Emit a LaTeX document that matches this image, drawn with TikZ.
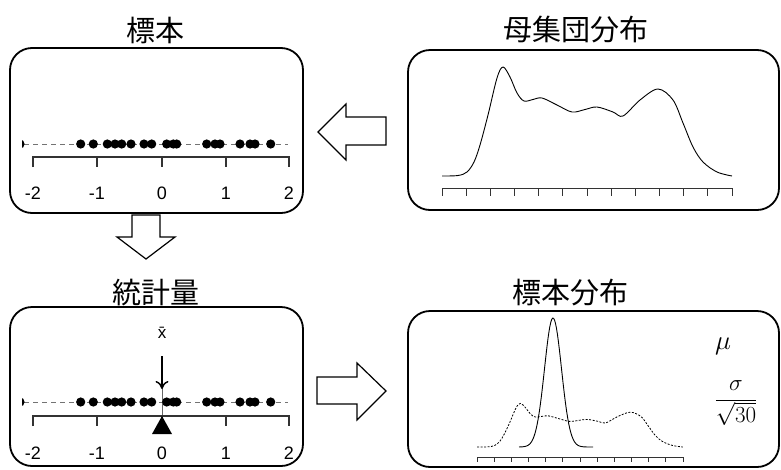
\RequirePackage{fix-cm}
\documentclass[tikz,border=0pt]{standalone}
\usepackage{fontspec}
\setmainfont{Liberation Sans}
\newfontfamily\cjk{Noto Sans CJK JP}
\usetikzlibrary{arrows.meta}
\tikzset{
  panel/.style={draw=black, line width=1.8pt, rounded corners=22pt, inner sep=0pt, fill=white},
  ttl/.style={font=\cjk\fontsize{29}{31}\selectfont, inner sep=0pt},
  blockarrow/.style={draw=black, line width=1.2pt, fill=white, line join=miter},
  axisline/.style={draw=black!80, line width=1.2pt},
  dotline/.style={draw=black!55, line width=0.8pt, dash pattern=on 5pt off 4pt},
  sdot/.style={fill=black},
  ticklab/.style={font=\fontsize{18}{20}\selectfont, inner sep=0pt},
  curve/.style={draw=black, line width=0.9pt},
  dcurve/.style={draw=black, line width=0.8pt, dash pattern=on 2pt off 1.5pt},
}
\newcommand{\sampledots}[1]{%
  \begin{scope}
    \clip (22,#1-6) rectangle (300,#1+6);
    \foreach \p in {20,80.7,93.3,107.3,115,121.7,131,144,151.7,166.7,173.3,176.7,206.7,215,220,240,250,255,270.7}
      \fill[sdot] (\p,#1) circle (4.6);
  \end{scope}}
\newcommand{\numaxis}[2]{%
  \draw[axisline] (33,#1+10) -- (33,#1) -- (289,#1) -- (289,#1+10);
  \foreach \k in {97,162,226} \draw[axisline] (\k,#1) -- (\k,#1+10);
  \foreach \k/\l in {33/-2,97/-1,162/0,226/1,289/2}
    \node[ticklab] at (\k,#2) {\l};}
\begin{document}
\begin{tikzpicture}[x=1pt,y=-1pt]
\useasboundingbox (0,0) rectangle (781,469);

% panels
\node[panel, minimum width=293pt, minimum height=165pt] (sample) at (156.5,130.5) {};
\node[panel, minimum width=371pt, minimum height=160pt] (pop) at (593.5,130) {};
\node[panel, minimum width=293pt, minimum height=159pt] (stat) at (156.5,386.5) {};
\node[panel, minimum width=371pt, minimum height=156pt] (sdist) at (593.5,389) {};

% titles
\node[ttl] (t1) at (155,30) {標本};
\node[ttl] (t2) at (576,30) {母集団分布};
\node[ttl] (t3) at (156,293) {統計量};
\node[ttl] (t4) at (570,293) {標本分布};

% block arrows
\draw[blockarrow] (318,132) -- (346,104) -- (346,117) -- (386,117) -- (386,145) -- (346,145) -- (346,160) -- cycle;
\draw[blockarrow] (146,259) -- (117,237) -- (132,237) -- (132,215) -- (160,215) -- (160,237) -- (175,237) -- cycle;
\draw[blockarrow] (386,391) -- (357,363) -- (357,377) -- (317,377) -- (317,404) -- (357,404) -- (357,420) -- cycle;

% sample panel
\draw[dotline] (24,144) -- (288,144);
\sampledots{144}
\numaxis{157}{193}

% statistic panel
\draw[dotline] (24,402) -- (288,402);
\draw[draw=black!60, line width=0.8pt] (162,388) -- (162,416);
\sampledots{402}
\numaxis{416}{453}
\node[font=\fontsize{17}{19}\selectfont, inner sep=0pt] (xbar) at (162,333) {\=x};
\coordinate (xtop) at (162,356);
\coordinate (xbot) at (162,389);
\draw[line width=1.5pt, -{To[length=8pt,width=13pt]}] (xtop) -- (xbot);
\fill (162,416) -- (172,434) -- (152,434) -- cycle;

% population panel
\draw[curve] plot[smooth, tension=0.55] coordinates {
 (442,176) (458,175.5) (467,172) (474,162) (480,145) (488,115) (497,78) (503,67)
 (510,77) (517,93) (524,101) (533,99.5) (542,98) (557,105) (572,112) (585,109.5)
 (597,107) (613,112) (623,116) (640,100) (658,89) (673,100) (683,123) (693,147)
 (703,162) (717,172) (732,176)};
\draw[axisline, line width=0.9pt] (442,188) -- (732,188);
\foreach \i in {0,...,12} \draw[axisline, line width=0.9pt] (442+24.1667*\i,188) -- (442+24.1667*\i,196);

% sampling distribution panel
\begin{scope}[shift={(163.2,376.6)}, xscale=0.71, yscale=0.4]
\draw[dcurve] plot[smooth, tension=0.55] coordinates {
 (442,176) (458,175.5) (467,172) (474,162) (480,145) (488,115) (497,78) (503,67)
 (510,77) (517,93) (524,101) (533,99.5) (542,98) (557,105) (572,112) (585,109.5)
 (597,107) (613,112) (623,116) (640,100) (658,89) (673,100) (683,123) (693,147)
 (703,162) (717,172) (732,176)};
\end{scope}
\draw[curve] plot[domain=519:593, samples=80] (\x, {447-129*exp(-((\x-553)^2)/144.5)});
\draw[axisline, line width=0.9pt] (477,457) -- (683,457);
\foreach \i in {0,...,12} \draw[axisline, line width=0.9pt] (477+17.1667*\i,457) -- (477+17.1667*\i,462);
\node[inner sep=0pt, font=\fontsize{27}{30}\selectfont] (mu) at (723,346) {$\mu$};
\node[inner sep=0pt, font=\fontsize{23}{26}\selectfont] (frac) at (736,403) {$\displaystyle\frac{\sigma}{\sqrt{30}}$};
\end{tikzpicture}
\end{document}
